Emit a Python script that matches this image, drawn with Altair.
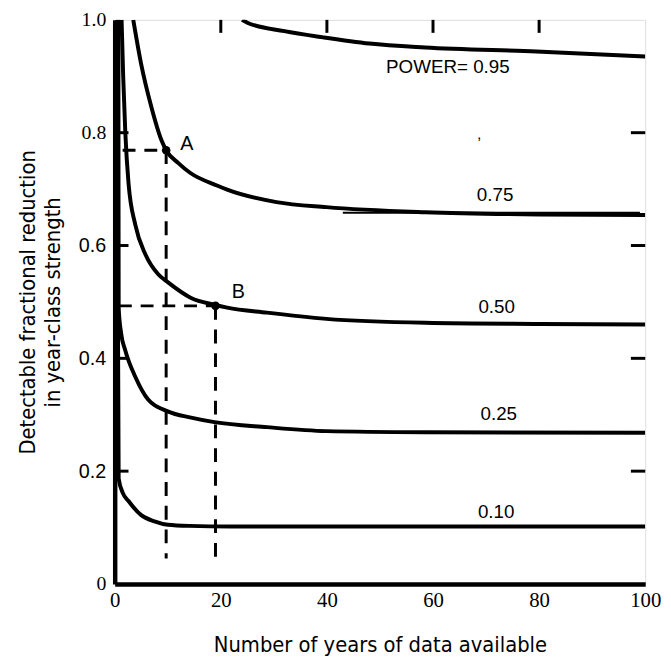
import altair as alt
import pandas as pd

# ---- data ----
x_095 = [24, 25, 32, 39.3, 48, 58.5, 79.5, 100]
y_095 = [1.0, 0.995, 0.98, 0.969, 0.958, 0.951, 0.944, 0.935]

x_075 = [3.5, 5.0, 6.9, 8.8, 9.7, 12, 14.2, 19.4, 21.2, 30.5, 39.9, 58.5, 80, 100]
y_075 = [1.0, 0.921, 0.846, 0.787, 0.769, 0.746, 0.729, 0.706, 0.699, 0.677, 0.668, 0.659, 0.655, 0.654]

x_050 = [1.3, 1.6, 2.0, 2.6, 3.9, 5.8, 8.2, 10, 14.4, 18.8, 21.2, 28.7, 39.9, 58.5, 80, 100]
y_050 = [1.0, 0.9, 0.80, 0.711, 0.636, 0.584, 0.549, 0.535, 0.507, 0.495, 0.490, 0.481, 0.470, 0.463, 0.461, 0.460]

x_025 = [0.7, 0.72, 0.75, 1.2, 2.0, 3.9, 6.3, 10, 14.4, 18.8, 28.7, 39.9, 58.5, 100]
y_025 = [1.0, 0.7, 0.49, 0.445, 0.414, 0.367, 0.327, 0.306, 0.295, 0.287, 0.278, 0.271, 0.269, 0.268]

x_010 = [0.5, 0.6, 0.75, 1.5, 2.6, 5.0, 7.5, 10, 14, 22, 100]
y_010 = [1.0, 0.5, 0.187, 0.162, 0.147, 0.122, 0.111, 0.105, 0.103, 0.102, 0.102]

curve_labels = ["POWER= 0.95", "0.75", "0.50", "0.25", "0.10"]
label_x = [62.8, 71.7, 72.0, 72.4, 71.9]
label_y = [0.916, 0.689, 0.491, 0.301, 0.128]

point_names = ["A", "B"]
point_x = [9.7, 19.0]
point_y = [0.769, 0.493]
point_label_x = [13.6, 23.3]
point_label_y = [0.78, 0.517]
hline_start = [1.5, 0.8]
vline_end = [0.045, 0.035]

x_ticks = [0, 20, 40, 60, 80, 100]
y_ticks = [0, 0.2, 0.4, 0.6, 0.8, 1.0]
inner_x_ticks = [20, 40, 60, 80]
inner_y_ticks = [0.2, 0.4, 0.6, 0.8]

# ---- tables ----
rows = []
for name, xs_, ys_ in [("0.95", x_095, y_095), ("0.75", x_075, y_075),
                       ("0.50", x_050, y_050), ("0.25", x_025, y_025),
                       ("0.10", x_010, y_010)]:
    for a, b in zip(xs_, ys_):
        rows.append({"power": name, "x": a, "y": b})
curves = pd.DataFrame(rows)

labels = pd.DataFrame({"t": curve_labels, "x": label_x, "y": label_y})
pts = pd.DataFrame({"n": point_names, "x": point_x, "y": point_y,
                    "lx": point_label_x, "ly": point_label_y,
                    "x0": hline_start, "y0": vline_end})
xt = pd.DataFrame({"v": inner_x_ticks})
yt = pd.DataFrame({"v": inner_y_ticks})
overlay = pd.DataFrame({"x": [43], "x2": [99], "y": [0.658]})
stray = pd.DataFrame({"x": [68.7], "y": [0.778], "t": ["\u02bc"]})

xs = alt.Scale(domain=[0, 100], nice=False, zero=False)
ys = alt.Scale(domain=[0, 1], nice=False, zero=False)

serif = "Liberation Serif"
sans = "Liberation Sans"
narrow = "DejaVu Sans Condensed"

x_axis = alt.Axis(values=x_ticks, ticks=False, grid=False, domainWidth=4.5,
                  domainColor="black", labelFont=serif, labelFontSize=21,
                  labelColor="black", labelPadding=6, labelFlush=False,
                  labelOverlap=False,
                  title="Number of years of data available",
                  titleFont=narrow, titleFontSize=22, titleFontWeight="normal",
                  titleColor="black", titlePadding=24)
y_axis = alt.Axis(values=y_ticks, ticks=False, grid=False, domainWidth=4.5,
                  domainColor="black",
                  labelExpr="datum.value == 0 ? '0' : format(datum.value, '.1f')",
                  labelFont={"condition": {"test": "datum.value > 0.1 && datum.value < 0.7",
                                           "value": sans}, "value": serif},
                  labelFontSize=20, labelColor="black", labelPadding=9,
                  labelFlush=False, labelOverlap=False,
                  title=["Detectable fractional reduction", "in year-class strength"],
                  titleFont=narrow, titleFontSize=22, titleFontWeight="normal",
                  titleColor="black", titlePadding=14, titleLineHeight=25)

lines = alt.Chart(curves).mark_line(color="black", strokeWidth=4,
                                    interpolate="monotone", clip=True).encode(
    x=alt.X("x:Q", scale=xs, axis=x_axis),
    y=alt.Y("y:Q", scale=ys, axis=y_axis),
    detail="power:N",
    order="x:Q",
)

hdash = alt.Chart(pts).mark_rule(color="black", strokeWidth=3,
                                 strokeDash=[13, 9]).encode(
    x="x0:Q", x2="x:Q", y="y:Q")
vdash = alt.Chart(pts).mark_rule(color="black", strokeWidth=3,
                                 strokeDash=[14, 10]).encode(
    x="x:Q", y="y:Q", y2="y0:Q")
dots = alt.Chart(pts).mark_circle(color="black", size=75, opacity=1).encode(
    x="x:Q", y="y:Q")
dot_text = alt.Chart(pts).mark_text(font=sans, fontSize=20, color="black").encode(
    x="lx:Q", y="ly:Q", text="n:N")

curve_text = alt.Chart(labels).mark_text(font=sans, fontSize=19, color="black").encode(
    x="x:Q", y="y:Q", text="t:N")

top_ticks = alt.Chart(xt).mark_rule(color="black", strokeWidth=3).encode(
    x="v:Q", y=alt.datum(1.0), y2=alt.datum(0.977))
left_ticks = alt.Chart(yt).mark_rule(color="black", strokeWidth=3).encode(
    y="v:Q", x=alt.datum(0), x2=alt.datum(2.6))
right_ticks = alt.Chart(yt).mark_rule(color="black", strokeWidth=3).encode(
    y="v:Q", x=alt.datum(97.3), x2=alt.datum(100))

over = alt.Chart(overlay).mark_rule(color="black", strokeWidth=2).encode(
    x="x:Q", x2="x2:Q", y="y:Q")
stray_mark = alt.Chart(stray).mark_text(font=sans, fontSize=16, color="black").encode(
    x="x:Q", y="y:Q", text="t:N")

chart = alt.layer(
    lines, hdash, vdash, dots, dot_text, curve_text,
    top_ticks, left_ticks, right_ticks, over, stray_mark,
).properties(
    width=537, height=571,
    autosize=alt.AutoSizeParams(type="none"),
    padding={"left": 108, "top": 8, "right": 18, "bottom": 78},
).configure_view(stroke="black", strokeWidth=3).configure(background="white")

chart.save("out.html", embed_options={"renderer": "svg", "actions": False})
